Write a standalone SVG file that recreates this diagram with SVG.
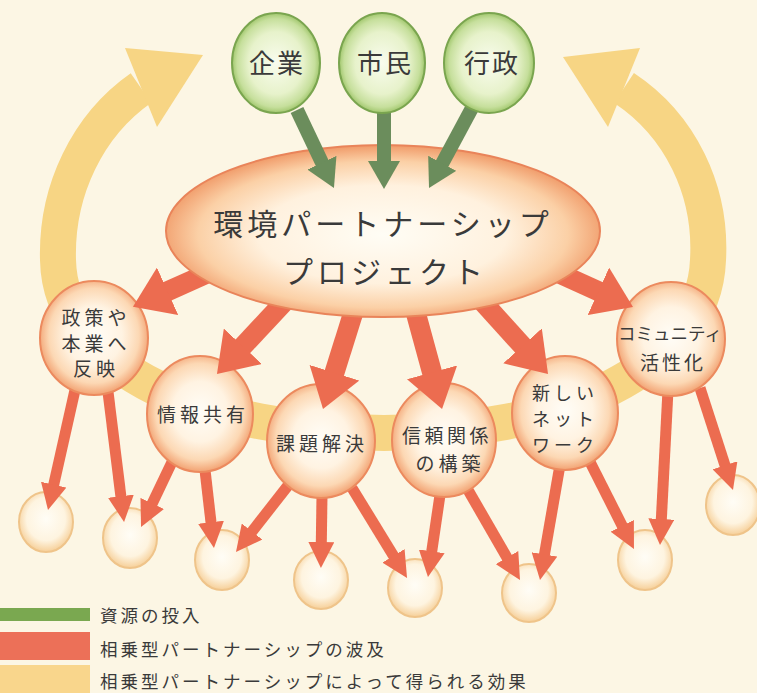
<svg xmlns="http://www.w3.org/2000/svg" width="757" height="693" viewBox="0 0 757 693">
<defs>
<style>
text{font-family:"Noto Sans CJK JP","Noto Sans CJK SC",sans-serif;fill:#3a3a3a;text-anchor:middle}
.node{fill:url(#gOrange);stroke:#ec8a5e;stroke-width:2}
.small{fill:url(#gSmall);stroke:#efc48a;stroke-width:2}
.green{fill:url(#gGreen);stroke:#7aa54f;stroke-width:2}
.big{stroke:#ec6c50;stroke-width:20;fill:none;marker-end:url(#hBig)}
.sm{stroke:#ec6c50;stroke-width:11;fill:none;marker-end:url(#hSm)}
.gr{stroke:#6b8d5c;stroke-width:14;fill:none;marker-end:url(#hGr)}
.nt{font-size:19px;letter-spacing:4px}
.lg{font-size:17.5px;letter-spacing:3px;text-anchor:start}
</style>
<radialGradient id="gOrange" cx="50%" cy="48%" r="52%">
<stop offset="0" stop-color="#fffdf7"/><stop offset="0.5" stop-color="#fff3e2"/><stop offset="0.8" stop-color="#fcd8b4"/><stop offset="1" stop-color="#f2a272"/>
</radialGradient>
<radialGradient id="gMain" cx="50%" cy="52%" r="52%">
<stop offset="0" stop-color="#fffdf5"/><stop offset="0.55" stop-color="#fff1de"/><stop offset="0.82" stop-color="#fbd0a6"/><stop offset="1" stop-color="#f09a68"/>
</radialGradient>
<radialGradient id="gSmall" cx="50%" cy="45%" r="55%">
<stop offset="0" stop-color="#fffdf6"/><stop offset="0.65" stop-color="#fef4e0"/><stop offset="1" stop-color="#f6cf98"/>
</radialGradient>
<radialGradient id="gGreen" cx="50%" cy="50%" r="52%">
<stop offset="0" stop-color="#f9fcee"/><stop offset="0.6" stop-color="#e7f2cb"/><stop offset="0.85" stop-color="#c6df9c"/><stop offset="1" stop-color="#95bf5e"/>
</radialGradient>
<marker id="hBig" markerUnits="userSpaceOnUse" markerWidth="40" markerHeight="52" refX="1" refY="26" orient="auto"><path d="M0,0 L38,26 L0,52 Z" fill="#ec6c50"/></marker>
<marker id="hSm" markerUnits="userSpaceOnUse" markerWidth="28" markerHeight="26" refX="1" refY="13" orient="auto"><path d="M0,0 L26,13 L0,26 Z" fill="#ec6c50"/></marker>
<marker id="hGr" markerUnits="userSpaceOnUse" markerWidth="30" markerHeight="32" refX="1" refY="16" orient="auto"><path d="M0,0 L28,16 L0,32 Z" fill="#6b8d5c"/></marker>
</defs>
<rect width="757" height="693" fill="#fcf6e4"/>

<g id="cycle">
<path d="M624,88 C680,125 712,190 708,260 C704,370 560,433 384,433 C210,433 60,370 58,260 C56,190 88,125 141,88" fill="none" stroke="#f7d584" stroke-width="36"/>
<polygon points="203,55 125,48 157,127" fill="#f7d584"/>
<polygon points="563,57 640,48 608,127" fill="#f7d584"/>
</g>

<g id="outcomes">
<ellipse class="small" cx="46" cy="522" rx="27" ry="30"/>
<ellipse class="small" cx="130" cy="538" rx="27" ry="30"/>
<ellipse class="small" cx="222" cy="560" rx="27" ry="30"/>
<ellipse class="small" cx="321" cy="580" rx="27" ry="29"/>
<ellipse class="small" cx="415" cy="588" rx="27" ry="29"/>
<ellipse class="small" cx="529" cy="593" rx="27" ry="29"/>
<ellipse class="small" cx="645" cy="560" rx="27" ry="30"/>
<ellipse class="small" cx="733" cy="505" rx="27" ry="30"/>
</g>

<g id="connectors-small">
<line class="sm" x1="75" y1="390" x2="53.5" y2="485.6"/>
<line class="sm" x1="108" y1="392" x2="121" y2="497.2"/>
<line class="sm" x1="172" y1="462" x2="151.8" y2="504.4"/>
<line class="sm" x1="205" y1="470" x2="211.1" y2="523.2"/>
<line class="sm" x1="290" y1="483" x2="251.4" y2="532.3"/>
<line class="sm" x1="322" y1="495" x2="321.3" y2="543"/>
<line class="sm" x1="352" y1="488" x2="394" y2="556.7"/>
<line class="sm" x1="440" y1="495" x2="431.6" y2="552.3"/>
<line class="sm" x1="468" y1="490" x2="507.5" y2="558.4"/>
<line class="sm" x1="560" y1="465" x2="544.3" y2="555.4"/>
<line class="sm" x1="590" y1="462" x2="622.7" y2="526.7"/>
<line class="sm" x1="668" y1="390" x2="661.3" y2="520"/>
<line class="sm" x1="700" y1="388" x2="725.3" y2="466.2"/>
</g>

<g id="node-policy">
<ellipse class="node" cx="94" cy="338" rx="54" ry="57"/>
<text class="nt" x="96" y="325">政策や</text>
<text class="nt" x="96" y="351">本業へ</text>
<text class="nt" x="96" y="376">反映</text>
</g>
<g id="node-info">
<ellipse class="node" cx="200" cy="414" rx="53" ry="58"/>
<text class="nt" x="203" y="422">情報共有</text>
</g>
<g id="node-problem">
<ellipse class="node" cx="321" cy="441" rx="54" ry="57"/>
<text class="nt" x="322" y="451">課題解決</text>
</g>
<g id="node-trust">
<ellipse class="node" cx="444" cy="440" rx="52" ry="57"/>
<text class="nt" x="447" y="443" style="letter-spacing:3.5px">信頼関係</text>
<text class="nt" x="450" y="471">の構築</text>
</g>
<g id="node-network">
<ellipse class="node" cx="565" cy="413" rx="53" ry="57"/>
<text class="nt" x="565" y="400" style="font-size:18px;letter-spacing:4px">新しい</text>
<text class="nt" x="565" y="426" style="font-size:18px;letter-spacing:4px">ネット</text>
<text class="nt" x="565" y="452" style="font-size:18px;letter-spacing:4px">ワーク</text>
</g>
<g id="node-community">
<ellipse class="node" cx="671" cy="339" rx="54" ry="57"/>
<text x="670" y="340" style="font-size:17.5px">コミュニティ</text>
<text class="nt" x="673" y="370" style="letter-spacing:3px">活性化</text>
</g>

<g id="connectors-main">
<line class="big" x1="224" y1="266" x2="166.7" y2="291.7"/>
<line class="big" x1="292" y1="293.6" x2="242.2" y2="347"/>
<line class="big" x1="359" y1="294.5" x2="334.1" y2="373.7"/>
<line class="big" x1="410.4" y1="293.2" x2="432.3" y2="373.3"/>
<line class="big" x1="474.2" y1="292.5" x2="523.2" y2="346.6"/>
<line class="big" x1="541.9" y1="265.7" x2="599.3" y2="291.7"/>
</g>

<g id="node-project">
<ellipse cx="383" cy="231" rx="217" ry="86" fill="url(#gMain)" stroke="#e9845a" stroke-width="2"/>
<text x="383" y="235" style="font-size:30px;letter-spacing:4px">環境パートナーシップ</text>
<text x="385" y="283" style="font-size:30px;letter-spacing:4px">プロジェクト</text>
</g>

<g id="connectors-input">
<line class="gr" x1="297" y1="110" x2="322.4" y2="163.6"/>
<line class="gr" x1="384" y1="112" x2="384" y2="162"/>
<line class="gr" x1="472" y1="108" x2="441.8" y2="164.2"/>
</g>

<g id="node-company">
<ellipse class="green" cx="276" cy="63" rx="44" ry="50"/>
<text x="277" y="73" style="font-size:26px;letter-spacing:2px">企業</text>
</g>
<g id="node-citizen">
<ellipse class="green" cx="382" cy="63" rx="43" ry="50"/>
<text x="385" y="73" style="font-size:26px;letter-spacing:2px">市民</text>
</g>
<g id="node-government">
<ellipse class="green" cx="489" cy="63" rx="45" ry="50"/>
<text x="492" y="73" style="font-size:26px;letter-spacing:2px">行政</text>
</g>

<g id="legend">
<rect x="0" y="608" width="90" height="13" fill="#7aa850"/>
<rect x="0" y="632" width="90" height="28" fill="#ec7058"/>
<rect x="0" y="665" width="90" height="28" fill="#f9d68c"/>
<text class="lg" x="100" y="622">資源の投入</text>
<text class="lg" x="100" y="656">相乗型パートナーシップの波及</text>
<text class="lg" x="100" y="688">相乗型パートナーシップによって得られる効果</text>
</g>
</svg>
